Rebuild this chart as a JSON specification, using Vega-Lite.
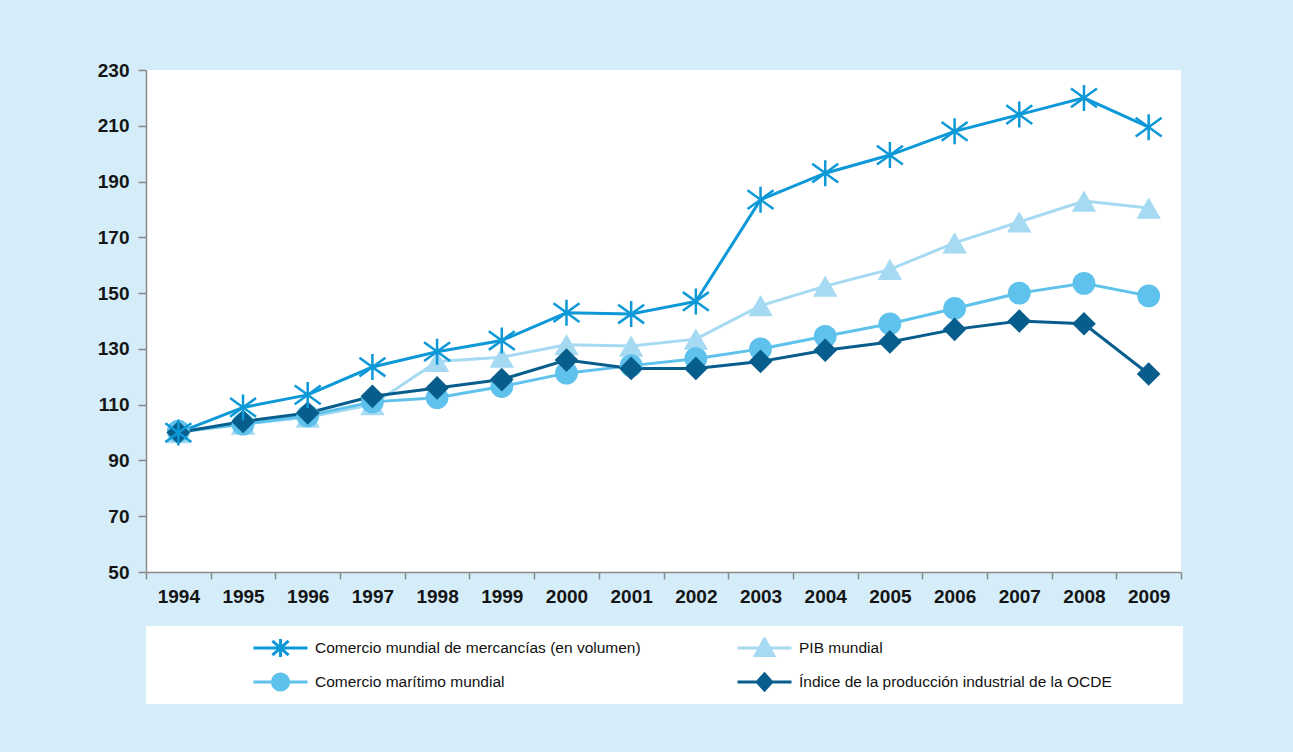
{
  "$schema": "https://vega.github.io/schema/vega-lite/v6.json",
  "width": 1035,
  "height": 502,
  "autosize": {"type": "none"},
  "padding": {"left": 146, "top": 70, "right": 112, "bottom": 180},
  "background": "#d4edf9",
  "config": {
    "view": {"fill": "white", "stroke": null},
    "font": "Liberation Sans",
    "legend": {
      "orient": "none",
      "legendX": 0,
      "legendY": 556,
      "titleOrient": "right",
      "titlePadding": 60,
      "columns": 2,
      "columnPadding": 0,
      "rowPadding": 12,
      "gridAlign": "all",
      "symbolOffset": 95,
      "padding": 11,
      "clipHeight": 22,
      "fillColor": "white",
      "labelFont": "Liberation Sans",
      "labelFontSize": 15.5,
      "labelColor": "#111111",
      "labelOffset": 6,
      "labelLimit": 600,
      "symbolSize": 2916,
      "symbolStrokeWidth": 3,
      "symbolOpacity": 1
    }
  },
  "data": {
    "values": [
      {"year": 1994, "serie": "Comercio mundial de mercancías (en volumen)", "value": 100},
      {"year": 1995, "serie": "Comercio mundial de mercancías (en volumen)", "value": 109},
      {"year": 1996, "serie": "Comercio mundial de mercancías (en volumen)", "value": 113.5},
      {"year": 1997, "serie": "Comercio mundial de mercancías (en volumen)", "value": 123.5},
      {"year": 1998, "serie": "Comercio mundial de mercancías (en volumen)", "value": 129},
      {"year": 1999, "serie": "Comercio mundial de mercancías (en volumen)", "value": 133},
      {"year": 2000, "serie": "Comercio mundial de mercancías (en volumen)", "value": 143},
      {"year": 2001, "serie": "Comercio mundial de mercancías (en volumen)", "value": 142.5},
      {"year": 2002, "serie": "Comercio mundial de mercancías (en volumen)", "value": 147},
      {"year": 2003, "serie": "Comercio mundial de mercancías (en volumen)", "value": 183.5},
      {"year": 2004, "serie": "Comercio mundial de mercancías (en volumen)", "value": 193},
      {"year": 2005, "serie": "Comercio mundial de mercancías (en volumen)", "value": 199.5},
      {"year": 2006, "serie": "Comercio mundial de mercancías (en volumen)", "value": 208},
      {"year": 2007, "serie": "Comercio mundial de mercancías (en volumen)", "value": 214},
      {"year": 2008, "serie": "Comercio mundial de mercancías (en volumen)", "value": 220},
      {"year": 2009, "serie": "Comercio mundial de mercancías (en volumen)", "value": 209.5},
      {"year": 1994, "serie": "PIB mundial", "value": 100},
      {"year": 1995, "serie": "PIB mundial", "value": 103},
      {"year": 1996, "serie": "PIB mundial", "value": 105.5},
      {"year": 1997, "serie": "PIB mundial", "value": 110},
      {"year": 1998, "serie": "PIB mundial", "value": 125.5},
      {"year": 1999, "serie": "PIB mundial", "value": 127},
      {"year": 2000, "serie": "PIB mundial", "value": 131.5},
      {"year": 2001, "serie": "PIB mundial", "value": 131},
      {"year": 2002, "serie": "PIB mundial", "value": 133.5},
      {"year": 2003, "serie": "PIB mundial", "value": 145.5},
      {"year": 2004, "serie": "PIB mundial", "value": 152.5},
      {"year": 2005, "serie": "PIB mundial", "value": 158.5},
      {"year": 2006, "serie": "PIB mundial", "value": 168},
      {"year": 2007, "serie": "PIB mundial", "value": 175.5},
      {"year": 2008, "serie": "PIB mundial", "value": 183},
      {"year": 2009, "serie": "PIB mundial", "value": 180.5},
      {"year": 1994, "serie": "Comercio marítimo mundial", "value": 100.5},
      {"year": 1995, "serie": "Comercio marítimo mundial", "value": 103},
      {"year": 1996, "serie": "Comercio marítimo mundial", "value": 106},
      {"year": 1997, "serie": "Comercio marítimo mundial", "value": 111},
      {"year": 1998, "serie": "Comercio marítimo mundial", "value": 112.5},
      {"year": 1999, "serie": "Comercio marítimo mundial", "value": 116.5},
      {"year": 2000, "serie": "Comercio marítimo mundial", "value": 121.3},
      {"year": 2001, "serie": "Comercio marítimo mundial", "value": 124},
      {"year": 2002, "serie": "Comercio marítimo mundial", "value": 126.5},
      {"year": 2003, "serie": "Comercio marítimo mundial", "value": 130},
      {"year": 2004, "serie": "Comercio marítimo mundial", "value": 134.5},
      {"year": 2005, "serie": "Comercio marítimo mundial", "value": 139},
      {"year": 2006, "serie": "Comercio marítimo mundial", "value": 144.5},
      {"year": 2007, "serie": "Comercio marítimo mundial", "value": 150},
      {"year": 2008, "serie": "Comercio marítimo mundial", "value": 153.5},
      {"year": 2009, "serie": "Comercio marítimo mundial", "value": 149},
      {"year": 1994, "serie": "Índice de la producción industrial de la OCDE", "value": 100},
      {"year": 1995, "serie": "Índice de la producción industrial de la OCDE", "value": 104},
      {"year": 1996, "serie": "Índice de la producción industrial de la OCDE", "value": 107},
      {"year": 1997, "serie": "Índice de la producción industrial de la OCDE", "value": 113},
      {"year": 1998, "serie": "Índice de la producción industrial de la OCDE", "value": 116},
      {"year": 1999, "serie": "Índice de la producción industrial de la OCDE", "value": 119},
      {"year": 2000, "serie": "Índice de la producción industrial de la OCDE", "value": 126},
      {"year": 2001, "serie": "Índice de la producción industrial de la OCDE", "value": 123},
      {"year": 2002, "serie": "Índice de la producción industrial de la OCDE", "value": 123},
      {"year": 2003, "serie": "Índice de la producción industrial de la OCDE", "value": 125.5},
      {"year": 2004, "serie": "Índice de la producción industrial de la OCDE", "value": 129.5},
      {"year": 2005, "serie": "Índice de la producción industrial de la OCDE", "value": 132.5},
      {"year": 2006, "serie": "Índice de la producción industrial de la OCDE", "value": 137},
      {"year": 2007, "serie": "Índice de la producción industrial de la OCDE", "value": 140},
      {"year": 2008, "serie": "Índice de la producción industrial de la OCDE", "value": 139},
      {"year": 2009, "serie": "Índice de la producción industrial de la OCDE", "value": 121}
    ]
  },
  "encoding": {
    "x": {
      "field": "year",
      "type": "ordinal",
      "scale": {"type": "band", "paddingInner": 0, "paddingOuter": 0},
      "axis": {
        "title": null,
        "labelAngle": 0,
        "tickBand": "extent",
        "labelFontWeight": "bold",
        "labelFontSize": 19,
        "labelColor": "#151515",
        "labelPadding": 8,
        "tickSize": 7,
        "tickColor": "#8a8a8a",
        "tickWidth": 1.5,
        "domainColor": "#8a8a8a",
        "domainWidth": 1.5,
        "grid": false
      }
    },
    "y": {
      "field": "value",
      "type": "quantitative",
      "scale": {"domain": [50, 230], "nice": false, "zero": false},
      "axis": {
        "title": null,
        "values": [50, 70, 90, 110, 130, 150, 170, 190, 210, 230],
        "labelFontWeight": "bold",
        "labelFontSize": 19,
        "labelColor": "#151515",
        "labelPadding": 9,
        "tickSize": 8,
        "tickColor": "#8a8a8a",
        "tickWidth": 1.5,
        "domainColor": "#8a8a8a",
        "domainWidth": 1.5,
        "grid": false
      }
    },
    "color": {
      "field": "serie",
      "type": "nominal",
      "title": " ",
      "scale": {
        "domain": [
          "Comercio mundial de mercancías (en volumen)",
          "Comercio marítimo mundial",
          "PIB mundial",
          "Índice de la producción industrial de la OCDE"
        ],
        "range": ["#0d98d8", "#5ec2ec", "#a6daf2", "#075e8c"]
      }
    }
  },
  "layer": [
    {
      "mark": {"type": "line", "strokeWidth": 3}
    },
    {
      "transform": [{"filter": "datum.serie === 'PIB mundial'"}],
      "mark": {"type": "point", "filled": true, "opacity": 1, "size": 600, "shape": "triangle-up"}
    },
    {
      "transform": [{"filter": "datum.serie === 'Comercio marítimo mundial'"}],
      "mark": {"type": "point", "filled": true, "opacity": 1, "size": 520, "shape": "circle"}
    },
    {
      "transform": [{"filter": "datum.serie === 'Índice de la producción industrial de la OCDE'"}],
      "mark": {"type": "point", "filled": true, "opacity": 1, "size": 560, "shape": "diamond"}
    },
    {
      "transform": [{"filter": "datum.serie === 'Comercio mundial de mercancías (en volumen)'"}],
      "mark": {
        "type": "point",
        "filled": false,
        "opacity": 1,
        "size": 676,
        "strokeWidth": 2.5,
        "shape": "M0,-1V1M-1,-0.72L1,0.72M-1,0.72L1,-0.72"
      }
    },
    {
      "mark": {"type": "point", "filled": true, "opacity": 0},
      "encoding": {
        "shape": {
          "field": "serie",
          "type": "nominal",
          "title": " ",
          "scale": {
            "domain": [
              "Comercio mundial de mercancías (en volumen)",
              "Comercio marítimo mundial",
              "PIB mundial",
              "Índice de la producción industrial de la OCDE"
            ],
            "range": [
              "M-1,0H1M0,-0.33V0.33M-0.3,-0.26L0.3,0.26M-0.3,0.26L0.3,-0.26",
              "M-1,0H1M0.3,0A0.3,0.3,0,1,1,-0.3,0A0.3,0.3,0,1,1,0.3,0Z",
              "M-1,0H1M0,-0.34L0.34,0.28L-0.34,0.28Z",
              "M-1,0H1M0,-0.3L0.27,0L0,0.3L-0.27,0Z"
            ]
          }
        }
      }
    }
  ]
}
